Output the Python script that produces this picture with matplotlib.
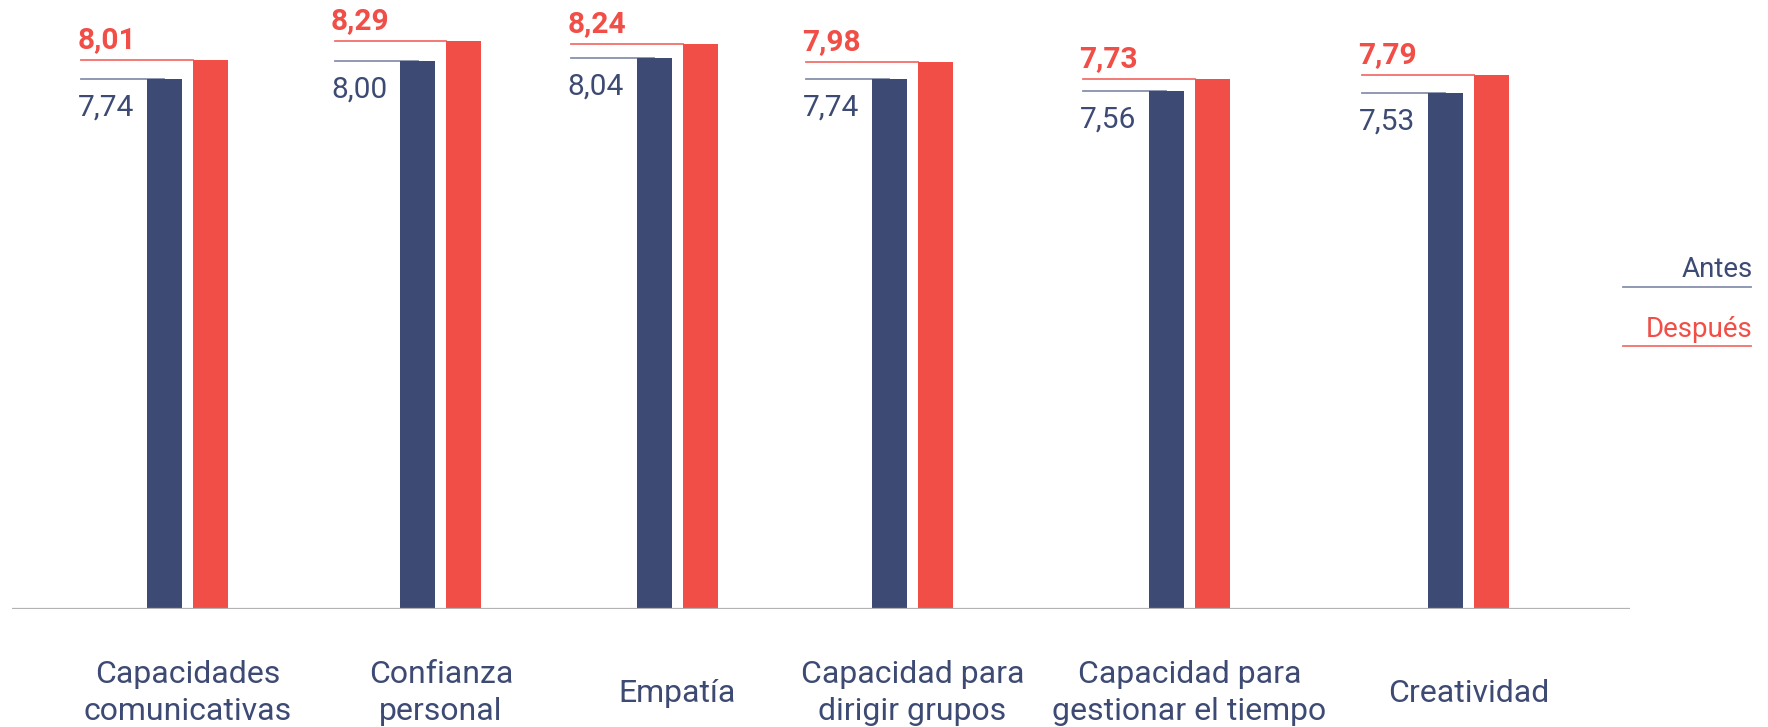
'''
Antes / Después comparison of self-assessed skills
'''

import matplotlib
matplotlib.use("Agg")
import matplotlib.pyplot as plt


# data
CATEGORIES = ["Capacidades\ncomunicativas", "Confianza\npersonal", "Empatía",
              "Capacidad para\ndirigir grupos", "Capacidad para\ngestionar el tiempo",
              "Creatividad"]
ANTES = [7.74, 8.00, 8.04, 7.74, 7.56, 7.53]
DESPUES = [8.01, 8.29, 8.24, 7.98, 7.73, 7.79]
SERIES_NAMES = ["Antes", "Después"]

# layout (pixel-like units along the x axis)
GROUP_X = [187.5, 441, 677.5, 912.5, 1189.5, 1468.5]
X_LOW = 12
X_HIGH = 1630
Y_TOP = 8.8
BAR_WIDTH = 35
BAR_OFFSET = 23
LINE_START = 106
LABEL_START = 110

FIG_W = 17.68
FIG_H = 7.27
DPI = 100

DARK = "#3D4A73"
DARK_LINE = "#8790AD"
RED = "#F04E46"
RED_LINE = "#F2706A"
AXIS_COLOUR = "#B3B3B3"
FONT = "Roboto"


def fmt(value):
    '''comma decimal like the source'''
    return f"{value:.2f}".replace(".", ",")


def make_chart():
    plt.rcParams["font.family"] = [FONT, "DejaVu Sans"]
    fig = plt.figure(figsize=(FIG_W, FIG_H), dpi=DPI)
    ax = fig.add_axes([X_LOW / 1768, 118 / 727, (X_HIGH - X_LOW) / 1768, 603 / 727])
    ax.set_xlim(X_LOW, X_HIGH)
    ax.set_ylim(0, Y_TOP)

    dark_x = [x - BAR_OFFSET for x in GROUP_X]
    red_x = [x + BAR_OFFSET for x in GROUP_X]
    ax.bar(dark_x, ANTES, BAR_WIDTH, color=DARK, zorder=3)
    ax.bar(red_x, DESPUES, BAR_WIDTH, color=RED, zorder=3)

    for x, a, d, cat in zip(GROUP_X, ANTES, DESPUES, CATEGORIES):
        # guide lines at the top of each bar
        ax.plot([x - LINE_START, x - BAR_OFFSET], [a, a], color=DARK_LINE, lw=1.3, zorder=2)
        ax.plot([x - LINE_START, x + BAR_OFFSET - BAR_WIDTH / 2], [d, d], color=RED_LINE,
                lw=1.3, zorder=2)
        ax.annotate(fmt(a), xy=(x - LABEL_START, a), xytext=(0, -15),
                    textcoords="offset pixels", ha="left", va="top",
                    fontsize=21.5, color=DARK)
        ax.annotate(fmt(d), xy=(x - LABEL_START, d), xytext=(0, 12),
                    textcoords="offset pixels", ha="left", va="baseline",
                    fontsize=21.5, fontweight="bold", color=RED)
        ax.annotate(cat, xy=(x, 0), xytext=(0, -84), textcoords="offset pixels",
                    ha="center", va="center", fontsize=23, color=DARK,
                    linespacing=1.38, annotation_clip=False)

    ax.axhline(0, color=AXIS_COLOUR, lw=1.6, zorder=4)
    for side in ["top", "right", "left", "bottom"]:
        ax.spines[side].set_visible(False)
    ax.set_xticks([])
    ax.set_yticks([])

    # legend drawn as text over a thin line
    fig.text(1753 / 1768, 1 - 277 / 727, SERIES_NAMES[0], ha="right", va="baseline",
             fontsize=20, color=DARK)
    fig.add_artist(plt.Line2D([1623 / 1768, 1751 / 1768], [1 - 287 / 727, 1 - 287 / 727],
                              color=DARK_LINE, lw=1.3))
    fig.text(1753 / 1768, 1 - 337 / 727, SERIES_NAMES[1], ha="right", va="baseline",
             fontsize=20, color=RED)
    fig.add_artist(plt.Line2D([1623 / 1768, 1751 / 1768], [1 - 346 / 727, 1 - 346 / 727],
                              color=RED_LINE, lw=1.3))

    fig.savefig("out.png", dpi=DPI, facecolor="white")


make_chart()
